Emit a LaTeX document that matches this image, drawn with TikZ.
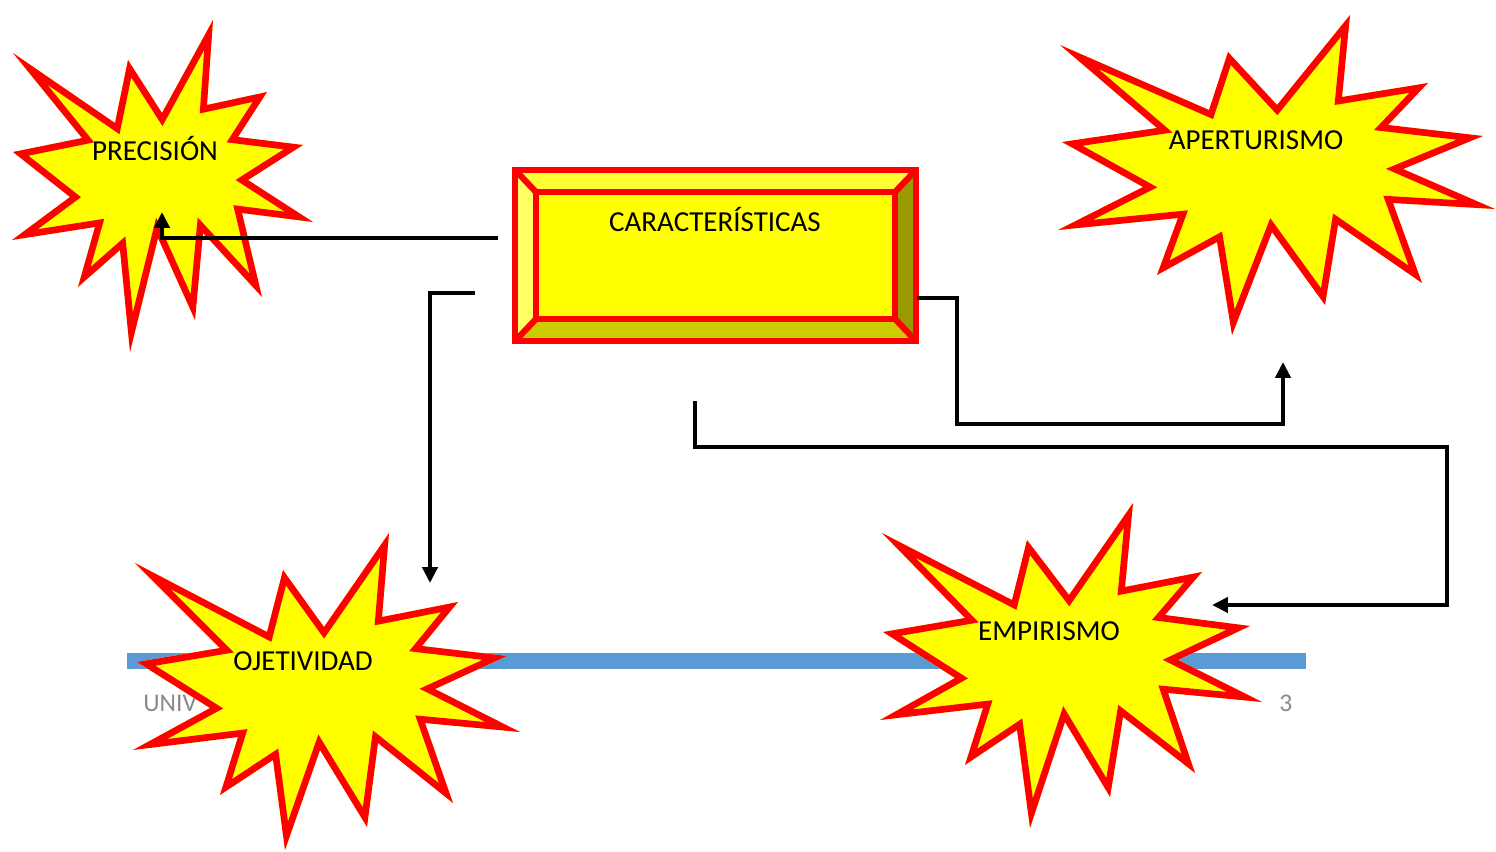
\documentclass[tikz,border=0pt]{standalone}
\usepackage{fontspec}
\setmainfont{Carlito}
\usetikzlibrary{arrows.meta}
\definecolor{burstred}{RGB}{255,0,0}
\definecolor{burstyel}{RGB}{255,255,0}
\definecolor{bevtop}{RGB}{255,255,51}
\definecolor{bevleft}{RGB}{255,255,102}
\definecolor{bevright}{RGB}{153,153,0}
\definecolor{bevbot}{RGB}{204,204,0}
\definecolor{footblue}{RGB}{91,155,213}
\definecolor{footgray}{RGB}{137,137,137}
\newcommand{\burstshape}[1]{%
  \fill[burstyel] #1;
  \begin{scope}
    \clip #1;
    \draw[burstred, line width=7.6pt, line join=miter] #1;
  \end{scope}}
\begin{document}
\begin{tikzpicture}[x=0.02cm, y=-0.02cm,
  lbl/.style={font=\fontsize{16.5pt}{19pt}\selectfont, inner sep=0pt, anchor=base},
  foot/.style={font=\fontsize{14.5pt}{17pt}\selectfont, text=footgray, inner sep=0pt, anchor=base west},
  conn/.style={draw=black, line width=2.6pt, -{Triangle[length=9pt,width=8.5pt]}},
  boxline/.style={draw=burstred, line width=3.5pt}]
\useasboundingbox (0,0) rectangle (1496,851);

% footer
\fill[footblue] (127,653) rectangle (1306,669);
\node[foot] (univ) at (143,711) {UNIV};
\node[foot] (page) at (1279,711) {3};

% explosions
\burstshape{(13,53) -- (115,123) -- (128,60) -- (162,113) -- (213,20) -- (207,105) -- (267,92) -- (238,137) -- (303,145) -- (248,180) -- (313,222) -- (242,213) -- (262,297) -- (203,233) -- (195,320) -- (158,238) -- (130,352) -- (120,250) -- (78,287) -- (95,227) -- (12,240) -- (70,197) -- (13,152) -- (82,138) -- cycle}
\burstshape{(1060,45) -- (1209,110) -- (1228,52) -- (1277,105) -- (1350,15) -- (1342,97) -- (1428,83) -- (1388,125) -- (1483,136) -- (1403,169) -- (1495,209) -- (1393,203) -- (1422,283) -- (1338,225) -- (1325,305) -- (1272,232) -- (1232,335) -- (1217,242) -- (1157,275) -- (1178,218) -- (1058,230) -- (1143,187) -- (1062,142) -- (1157,128) -- cycle}
\burstshape{(135,563) -- (267,632) -- (283,570) -- (324,627) -- (389,533) -- (382,617) -- (458,602) -- (422,646) -- (507,656) -- (435,689) -- (520,732) -- (425,723) -- (453,803) -- (378,743) -- (367,827) -- (320,750) -- (285,850) -- (273,760) -- (220,795) -- (238,737) -- (133,750) -- (210,708) -- (137,662) -- (220,648) -- cycle}
\burstshape{(882,533) -- (1012,600) -- (1027,540) -- (1069,595) -- (1133,503) -- (1125,587) -- (1202,572) -- (1165,615) -- (1250,626) -- (1178,660) -- (1262,702) -- (1168,693) -- (1195,773) -- (1123,717) -- (1110,797) -- (1065,722) -- (1030,828) -- (1017,730) -- (965,765) -- (983,708) -- (880,720) -- (955,678) -- (883,632) -- (965,618) -- cycle}

% bevelled box
\fill[bevtop] (515,170) -- (916,170) -- (895,192) -- (536,192) -- cycle;
\fill[bevleft] (515,170) -- (536,192) -- (536,319) -- (515,341) -- cycle;
\fill[bevright] (916,170) -- (916,341) -- (895,319) -- (895,192) -- cycle;
\fill[bevbot] (515,341) -- (536,319) -- (895,319) -- (916,341) -- cycle;
\fill[burstyel] (536,192) rectangle (895,319);
\draw[boxline] (515,170) rectangle (916,341);
\draw[boxline] (536,192) rectangle (895,319);
\draw[boxline] (515,170) -- (536,192) (916,170) -- (895,192) (515,341) -- (536,319) (916,341) -- (895,319);

% labels
\node[lbl] (car) at (715,231) {CARACTERÍSTICAS};
\node[lbl] (prec) at (155,161) {PRECISIÓN};
\node[lbl] (aper) at (1256,150) {APERTURISMO};
\node[lbl] (ojet) at (303,670) {OJETIVIDAD};
\node[lbl] (empi) at (1049,640) {EMPIRISMO};

% connectors
\coordinate (p1s) at (498,238);
\coordinate (p1e) at (162,212);
\coordinate (o1s) at (475,293);
\coordinate (o1e) at (430,583);
\coordinate (a1s) at (917,298);
\coordinate (a1m) at (957,424);
\coordinate (a1e) at (1283,362);
\coordinate (e1s) at (695,401);
\coordinate (e1m) at (1447,447);
\coordinate (e1e) at (1212,605);
\draw[conn] (p1s) -| (p1e);
\draw[conn] (o1s) -| (o1e);
\draw[conn] (a1s) -| (a1m) -| (a1e);
\draw[conn] (e1s) |- (e1m) |- (e1e);
\end{tikzpicture}
\end{document}
